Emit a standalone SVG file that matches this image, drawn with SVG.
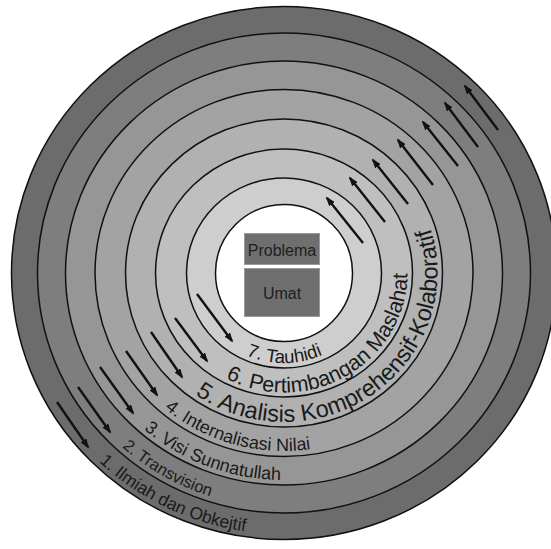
<svg xmlns="http://www.w3.org/2000/svg" width="551" height="549" viewBox="0 0 551 549">
<style>
.ring{stroke:#111;stroke-width:1.5}
.lbl{font-family:"Liberation Sans",Arial,sans-serif;fill:#1a1a1a}
.box{fill:#6f6f6f;stroke:#9a9a9a;stroke-width:1}
.btxt{font-family:"Liberation Sans",Arial,sans-serif;font-size:16px;fill:#1e1e1e;text-anchor:middle}
.arr{stroke:#111;stroke-width:2.4;fill:none;marker-end:url(#ah)}
</style>
<defs>
<marker id="ah" markerUnits="userSpaceOnUse" markerWidth="10" markerHeight="7" refX="8" refY="3.5" orient="auto"><path d="M0,0 L10,3.5 L0,7 z" fill="#111"/></marker>
<path id="p1" d="M16,273 A268,261 0 0 0 552,273"/>
<path id="p2" d="M42.5,273 A241.5,234.5 0 0 0 525.5,273"/>
<path id="p3" d="M70.5,273 A213.5,207 0 0 0 497.5,273"/>
<path id="p4" d="M100,273 A184,178 0 0 0 468,273"/>
<path id="p5" d="M130.5,273 A153.5,149 0 0 0 437.5,273 A153.5,149 0 0 0 401.6,177.2"/>
<path id="p6" d="M160.5,273 A123.5,119.5 0 0 0 407.5,273 A123.5,119.5 0 0 0 378.6,196.2"/>
<path id="p7" d="M191.5,273 A92.5,90 0 0 0 376.5,273"/>
</defs>
<rect width="551" height="549" fill="#ffffff"/>
<g id="ring1"><ellipse class="ring" cx="284" cy="273" rx="272.5" ry="266.5" fill="#6c6c6c"/></g>
<g id="ring2"><ellipse class="ring" cx="284" cy="273" rx="246.5" ry="240" fill="#7e7e7e"/></g>
<g id="ring3"><ellipse class="ring" cx="284" cy="273" rx="218.5" ry="212" fill="#969696"/></g>
<g id="ring4"><ellipse class="ring" cx="284" cy="273" rx="189" ry="183.5" fill="#a3a3a3"/></g>
<g id="ring5"><ellipse class="ring" cx="284" cy="273" rx="158.5" ry="154" fill="#b1b1b1"/></g>
<g id="ring6"><ellipse class="ring" cx="284" cy="273" rx="128.5" ry="124" fill="#bfbfbf"/></g>
<g id="ring7"><ellipse class="ring" cx="284" cy="273" rx="97.5" ry="95" fill="#cecece"/></g>
<g id="center"><circle class="ring" cx="284" cy="273" r="68.5" fill="#ffffff"/>
<rect class="box" x="244.5" y="233.5" width="75" height="31"/>
<text class="btxt" x="282" y="256">Problema</text>
<rect class="box" x="244.5" y="268.5" width="75" height="48"/>
<text class="btxt" x="282" y="299">Umat</text>
</g>
<g id="labels">
<text class="lbl" font-size="17.5"><textPath href="#p1" startOffset="212">1. Ilmiah dan Obkejtif</textPath></text>
<text class="lbl" font-size="16.5"><textPath href="#p2" startOffset="197">2. Transvision</textPath></text>
<text class="lbl" font-size="18"><textPath href="#p3" startOffset="178">3. Visi Sunnatullah</textPath></text>
<text class="lbl" font-size="18"><textPath href="#p4" startOffset="155">4. Internalisasi Nilai</textPath></text>
<text class="lbl" font-size="23.5"><textPath href="#p5" startOffset="143">5. Analisis Komprehensif-Kolaboratif</textPath></text>
<text class="lbl" font-size="21.5"><textPath href="#p6" startOffset="130">6. Pertimbangan Maslahat</textPath></text>
<text class="lbl" font-size="18.5"><textPath href="#p7" startOffset="104">7. Tauhidi</textPath></text>
</g>
<g id="connectors">
<line class="arr" x1="57" y1="402" x2="88" y2="447"/>
<line class="arr" x1="78" y1="387" x2="110" y2="432"/>
<line class="arr" x1="100" y1="367" x2="133" y2="413"/>
<line class="arr" x1="126" y1="351" x2="157" y2="395"/>
<line class="arr" x1="151" y1="332" x2="182" y2="377"/>
<line class="arr" x1="175" y1="318" x2="207" y2="361"/>
<line class="arr" x1="197" y1="294" x2="232" y2="341"/>
<line class="arr" x1="363" y1="243" x2="327" y2="198"/>
<line class="arr" x1="385" y1="222" x2="350" y2="178"/>
<line class="arr" x1="408" y1="204" x2="373" y2="160"/>
<line class="arr" x1="433" y1="185" x2="398" y2="140"/>
<line class="arr" x1="458" y1="166" x2="423" y2="122"/>
<line class="arr" x1="478" y1="147" x2="445" y2="103"/>
<line class="arr" x1="498" y1="130" x2="465" y2="86"/>
</g>
</svg>
